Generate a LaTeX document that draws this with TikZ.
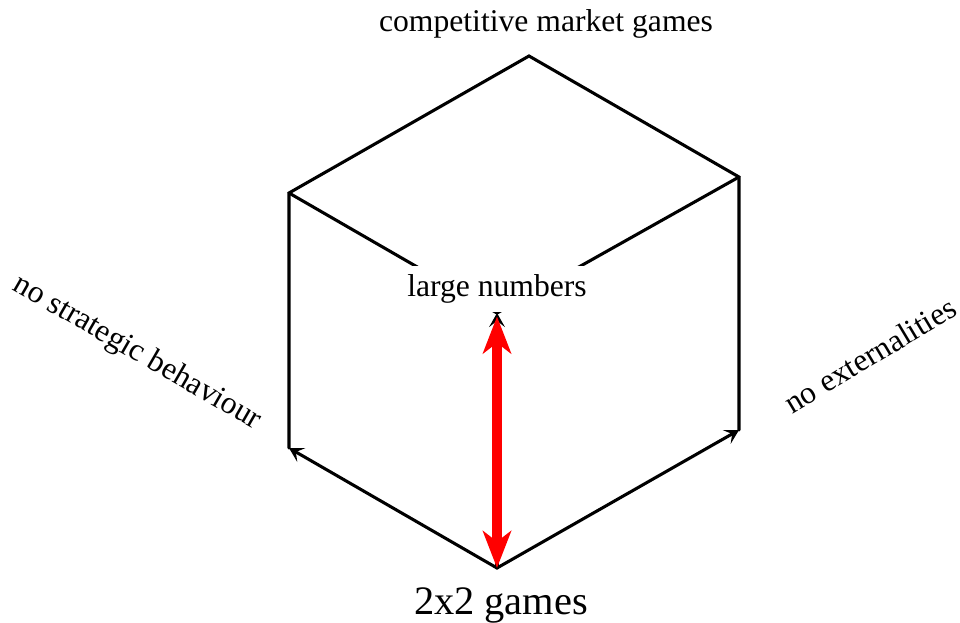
\documentclass[tikz,border=0pt]{standalone}
\usepackage{fontspec}
\setmainfont{Liberation Serif}
\usetikzlibrary{arrows.meta}
\usetikzlibrary{positioning}
\tikzset{
  rotulo/.style={font=\fontsize{18}{20}\selectfont, inner sep=0pt},
  aresta/.style={line width=1.75pt, line cap=round, line join=miter},
  seta/.style={aresta, -{Stealth[length=8pt,width=9pt,inset=3.5pt]}},
}

\begin{document}
\begin{tikzpicture}
  \useasboundingbox (0,0) rectangle (19.2,12.44);
  % vertices of the cube
  \coordinate (b)  at (9.94,1.08);
  \coordinate (lb) at (5.78,3.48);
  \coordinate (rb) at (14.78,3.84);
  \coordinate (tl) at (5.78,8.58);
  \coordinate (tr) at (14.78,8.90);
  \coordinate (t)  at (10.58,11.32);
  \coordinate (c)  at (9.94,6.18);
  \draw[aresta] (lb) -- (tl) -- (t) -- (tr) -- (rb);
  \draw[aresta] (tl) -- (c) -- (tr);
  \draw[seta] (b) -- (lb);
  \draw[seta] (b) -- (rb);
  \draw[seta] (b) -- (c);
  \node[rotulo, fill=white, inner sep=5pt] (grandes) at (9.94,6.66) {large numbers};
  \draw[red, line width=6pt, {Stealth[length=21pt,width=16pt,inset=6pt]}-{Stealth[length=21pt,width=16pt,inset=6pt]}] (b) -- ([yshift=-2pt]c);
  \node[rotulo] (mercado) at (10.92,11.96) {competitive market games};
  \node[rotulo, font=\fontsize{23}{26}\selectfont] (jogos) at (10.02,0.34) {2x2 games};
  \node[rotulo, rotate=-30] (estrategia) at (2.74,5.38) {no strategic behaviour};
  \node[rotulo, rotate=31] (externas) at (17.4,5.34) {no externalities};
\end{tikzpicture}
\end{document}
